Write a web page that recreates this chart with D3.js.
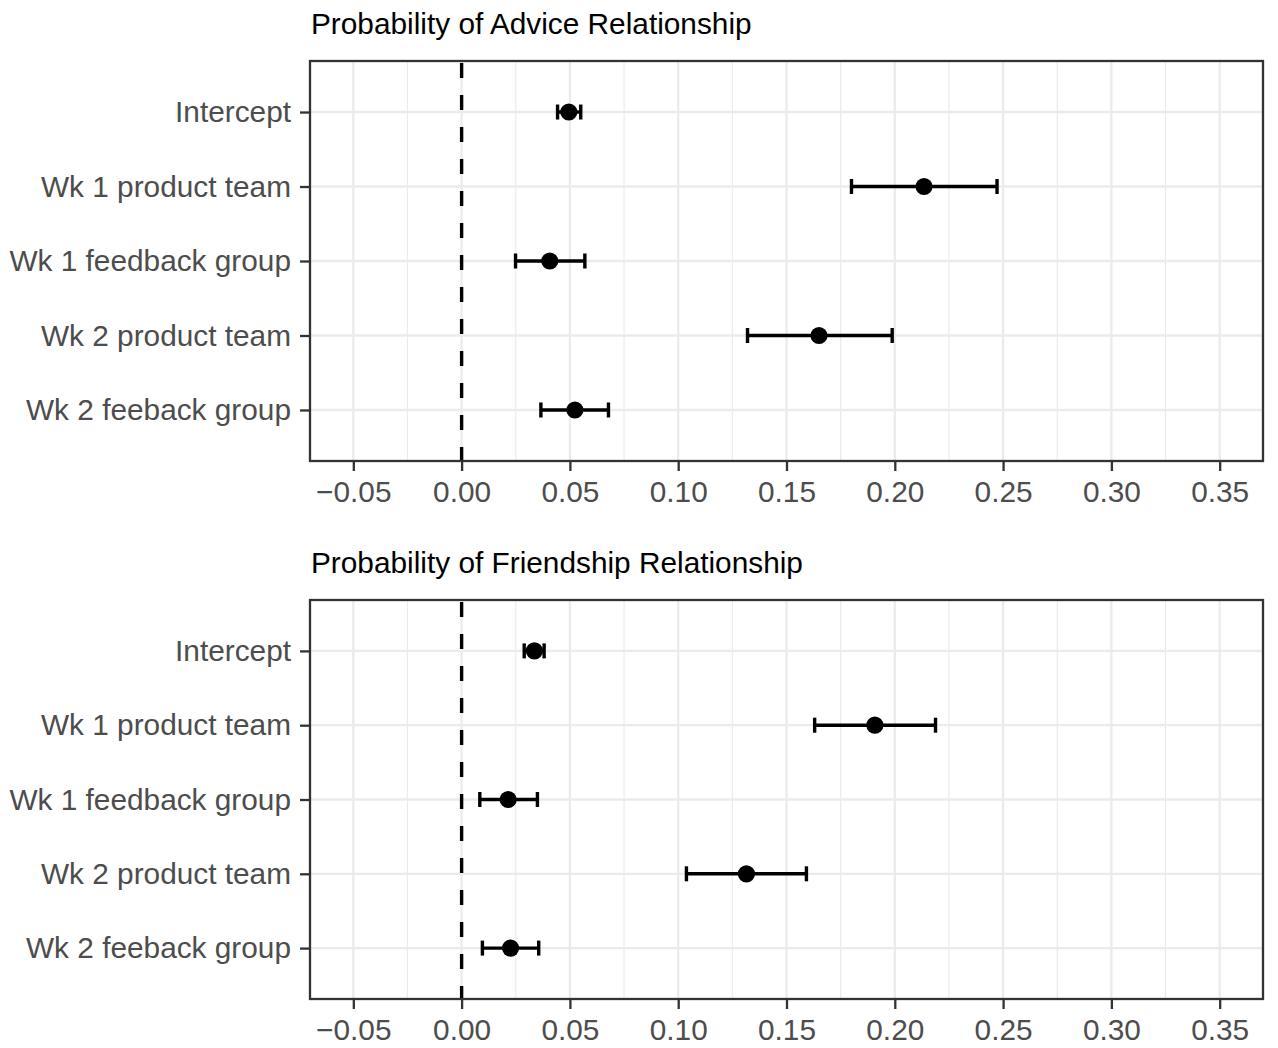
<!DOCTYPE html>
<html>
<head>
<meta charset="utf-8">
<script src="https://cdn.jsdelivr.net/npm/d3@7"></script>
<style>
  html, body { margin: 0; padding: 0; background: #fff; }
  svg { display: block; }
</style>
</head>
<body>
<svg id="chart" width="1278" height="1048"></svg>
<script>
const categories = ["Intercept", "Wk 1 product team", "Wk 1 feedback group", "Wk 2 product team", "Wk 2 feeback group"];
const adviceEst = [0.0495, 0.2135, 0.0407, 0.1650, 0.0523];
const adviceLo  = [0.0443, 0.1800, 0.0249, 0.1320, 0.0366];
const adviceHi  = [0.0550, 0.2472, 0.0569, 0.1988, 0.0678];
const friendEst = [0.0336, 0.1908, 0.0215, 0.1315, 0.0226];
const friendLo  = [0.0289, 0.1630, 0.0084, 0.1038, 0.0096];
const friendHi  = [0.0381, 0.2188, 0.0350, 0.1592, 0.0356];
const xTicks = [-0.05, 0.00, 0.05, 0.10, 0.15, 0.20, 0.25, 0.30, 0.35];
const xMinor = [-0.025, 0.025, 0.075, 0.125, 0.175, 0.225, 0.275, 0.325];
const titles = ["Probability of Advice Relationship", "Probability of Friendship Relationship"];

const svg = d3.select("#chart");
const FONT = "'Liberation Sans', Arial, Helvetica, sans-serif";
const FS = 29.8;
const left = 310, right = 1263;
const panels = [
  { top: 61, bottom: 461, title: titles[0], est: adviceEst, lo: adviceLo, hi: adviceHi },
  { top: 600, bottom: 999, title: titles[1], est: friendEst, lo: friendLo, hi: friendHi }
];

const x = d3.scaleLinear().domain([-0.07, 0.37]).range([left, right]);
const fmt = d3.format(".2f");

panels.forEach(p => {
  const y = d3.scalePoint().domain(categories).range([p.top, p.bottom]).padding(0.685);
  const g = svg.append("g");

  g.append("text")
    .attr("x", left + 1).attr("y", p.top - 27)
    .attr("font-family", FONT).attr("font-size", FS).attr("fill", "#000")
    .text(p.title);

  g.append("rect").attr("x", left).attr("y", p.top)
    .attr("width", right - left).attr("height", p.bottom - p.top).attr("fill", "#fff");

  g.selectAll(".minor").data(xMinor).join("line")
    .attr("x1", d => x(d)).attr("x2", d => x(d))
    .attr("y1", p.top).attr("y2", p.bottom)
    .attr("stroke", "#ebebeb").attr("stroke-width", 1.2);
  g.selectAll(".majorx").data(xTicks).join("line")
    .attr("x1", d => x(d)).attr("x2", d => x(d))
    .attr("y1", p.top).attr("y2", p.bottom)
    .attr("stroke", "#ebebeb").attr("stroke-width", 2.3);
  g.selectAll(".majory").data(categories).join("line")
    .attr("x1", left).attr("x2", right)
    .attr("y1", d => y(d)).attr("y2", d => y(d))
    .attr("stroke", "#ebebeb").attr("stroke-width", 2.3);

  g.append("line")
    .attr("x1", x(0)).attr("x2", x(0))
    .attr("y1", p.top).attr("y2", p.bottom)
    .attr("stroke", "#000").attr("stroke-width", 3.4)
    .attr("stroke-dasharray", "15 17").attr("stroke-dashoffset", 30);

  const data = categories.map((c, i) => ({ c, est: p.est[i], lo: p.lo[i], hi: p.hi[i] }));

  const eb = g.selectAll(".eb").data(data).join("g");
  const sw = 3.4;
  eb.append("line")
    .attr("x1", d => x(d.lo)).attr("x2", d => x(d.hi))
    .attr("y1", d => y(d.c)).attr("y2", d => y(d.c))
    .attr("stroke", "#000").attr("stroke-width", sw);
  eb.append("line")
    .attr("x1", d => x(d.lo)).attr("x2", d => x(d.lo))
    .attr("y1", d => y(d.c) - 7.5).attr("y2", d => y(d.c) + 7.5)
    .attr("stroke", "#000").attr("stroke-width", sw);
  eb.append("line")
    .attr("x1", d => x(d.hi)).attr("x2", d => x(d.hi))
    .attr("y1", d => y(d.c) - 7.5).attr("y2", d => y(d.c) + 7.5)
    .attr("stroke", "#000").attr("stroke-width", sw);

  g.selectAll(".pt").data(data).join("circle")
    .attr("cx", d => x(d.est)).attr("cy", d => y(d.c)).attr("r", 8.6)
    .attr("fill", "#000");

  g.append("rect").attr("x", left).attr("y", p.top)
    .attr("width", right - left).attr("height", p.bottom - p.top)
    .attr("fill", "none").attr("stroke", "#333").attr("stroke-width", 2.3);

  const xa = g.append("g").attr("transform", `translate(0,${p.bottom})`)
    .call(d3.axisBottom(x).tickValues(xTicks).tickFormat(fmt).tickSize(10).tickPadding(10));
  xa.select(".domain").remove();
  xa.selectAll(".tick line").attr("stroke", "#333").attr("stroke-width", 2.3);
  xa.selectAll(".tick text").attr("fill", "#4d4d4d").attr("font-family", FONT).attr("font-size", FS);

  const ya = g.append("g").attr("transform", `translate(${left},0)`)
    .call(d3.axisLeft(y).tickSize(10).tickPadding(9));
  ya.select(".domain").remove();
  ya.selectAll(".tick line").attr("stroke", "#333").attr("stroke-width", 2.3);
  ya.selectAll(".tick text").attr("fill", "#4d4d4d").attr("font-family", FONT).attr("font-size", FS);
});
</script>
</body>
</html>
